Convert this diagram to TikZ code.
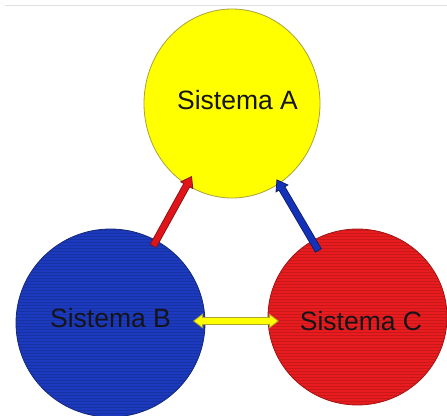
\documentclass[tikz,border=0pt]{standalone}
\usepackage{fontspec}
\setmainfont{Liberation Sans}
\usetikzlibrary{shapes.geometric,arrows.meta,calc}

\definecolor{sysyellow}{RGB}{255,255,0}
\definecolor{sysyellowline}{RGB}{170,160,60}
\definecolor{sysblue}{RGB}{28,58,190}
\definecolor{sysblueline}{RGB}{20,40,120}
\definecolor{sysred}{RGB}{232,28,30}
\definecolor{sysredline}{RGB}{160,20,20}
\definecolor{arrred}{RGB}{225,20,25}
\definecolor{arrredline}{RGB}{130,20,20}
\definecolor{arrblue}{RGB}{20,50,185}
\definecolor{arrblueline}{RGB}{15,30,100}
\definecolor{arryellow}{RGB}{255,255,0}
\definecolor{arryellowline}{RGB}{175,165,50}
\definecolor{textdark}{RGB}{20,20,25}

\tikzset{
  system/.style={ellipse, inner sep=0pt, line width=0.8pt},
  systext/.style={inner sep=0pt, font=\fontsize{26.5}{30}\selectfont, text=textdark},
  % block arrow: dark outline pass, then a lighter shaft on top
  blockout/.style={line width=7.6pt, draw=#1},
  blockin/.style={line width=5.8pt, draw=#1},
  stripe/.style={black, opacity=0.13, line width=1pt}
}

\begin{document}
\begin{tikzpicture}[x=1pt, y=-1pt]
  \useasboundingbox (0,0) rectangle (447,415);

  % thin rule along the top
  \draw[black!12, line width=1pt] (5,5) -- (447,5);

  % the three systems
  \node[system, fill=sysyellow, draw=sysyellowline,
        minimum width=176pt, minimum height=189pt] (A) at (232,103.5) {};
  \node[system, fill=sysblue, draw=sysblueline,
        minimum width=189pt, minimum height=188pt] (B) at (110.5,323) {};
  \node[system, fill=sysred, draw=sysredline,
        minimum width=179pt, minimum height=176pt] (C) at (357.5,317) {};

  % horizontal grain on the blue and red discs
  \begin{scope}
    \clip (B.center) ellipse [x radius=94, y radius=93.5];
    \foreach \yy in {227,230,...,418} \draw[stripe] (0,\yy) -- (447,\yy);
  \end{scope}
  \begin{scope}
    \clip (C.center) ellipse [x radius=89, y radius=87.5];
    \foreach \yy in {227,230,...,406} \draw[stripe] (260,\yy) -- (447,\yy);
  \end{scope}

  % names
  \node[systext] (At) at ($(A)+(5.5,-3.5)$) {Sistema A};
  \node[systext] (Bt) at ($(B)+(0,-5)$) {Sistema B};
  \node[systext] (Ct) at ($(C)+(3.5,4)$) {Sistema C};

  % B -> A
  \draw[blockout=arrredline, -{Triangle[width=15pt,length=11pt,fill=arrred,line width=0.8pt]}]
    ($(B)!0.35!(A)$) -- ($(B)!0.67!(A)$);
  \draw[blockin=arrred, shorten <=0.9pt, shorten >=9pt]
    ($(B)!0.35!(A)$) -- ($(B)!0.67!(A)$);

  % C -> A
  \draw[blockout=arrblueline, -{Triangle[width=15pt,length=11pt,fill=arrblue,line width=0.8pt]}]
    ($(C)!0.31!(A)$) -- ($(C)!0.645!(A)$);
  \draw[blockin=arrblue, shorten <=0.9pt, shorten >=9pt]
    ($(C)!0.31!(A)$) -- ($(C)!0.645!(A)$);

  % B <-> C, kept level
  \coordinate (yl) at ($(B)!0.334!(C)$);
  \coordinate (yr) at ($(B)!0.682!(C)$);
  \draw[blockout=arryellowline,
        {Triangle[width=15pt,length=10pt,fill=arryellow,line width=0.8pt]}-{Triangle[width=15pt,length=10pt,fill=arryellow,line width=0.8pt]}]
    (yl) -- (yr |- yl);
  \draw[blockin=arryellow, shorten <=8pt, shorten >=8pt]
    (yl) -- (yr |- yl);
\end{tikzpicture}
\end{document}
